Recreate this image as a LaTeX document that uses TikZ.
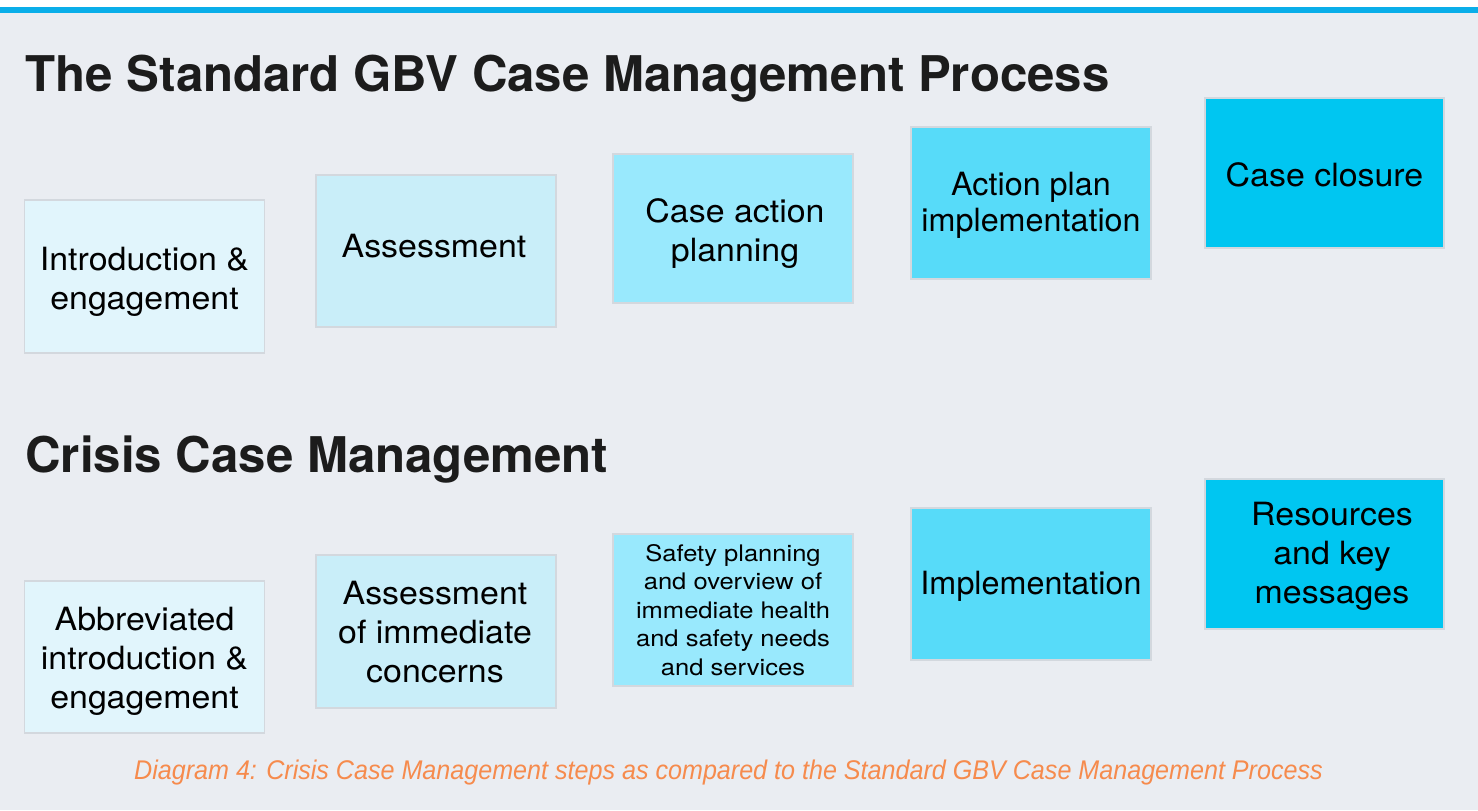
\documentclass[tikz,border=0pt]{standalone}
\usepackage{fontspec}
\setmainfont{TeX Gyre Heros}
\newfontfamily\boxfont[FakeStretch=1.06]{TeX Gyre Heros}
\newfontfamily\boxfontn[FakeStretch=1.01]{TeX Gyre Heros}
\newfontfamily\smallfont[FakeStretch=1.12]{TeX Gyre Heros}
\newfontfamily\capfont{Liberation Sans}
\definecolor{bgc}{HTML}{EAEDF2}
\definecolor{linec}{HTML}{0AAEE9}
\definecolor{ca}{HTML}{E1F5FC}
\definecolor{cb}{HTML}{C9EEF9}
\definecolor{cc}{HTML}{99E9FD}
\definecolor{cd}{HTML}{57DBF9}
\definecolor{ce}{HTML}{00C6F1}
\definecolor{edgec}{HTML}{D3D8DE}
\definecolor{titlec}{HTML}{1C1C1C}
\definecolor{capc}{HTML}{F68B4D}
\tikzset{
  stepbox/.style={draw=edgec, line width=0.6pt, minimum width=120pt, minimum height=76pt, inner sep=0pt},
  steptext/.style={inner sep=0pt, align=center, text=black, font=\boxfont\fontsize{16}{19.5}\selectfont},
  smalltext/.style={steptext, font=\smallfont\fontsize{11.4}{14.3}\selectfont},
  titletext/.style={anchor=base west, inner sep=0pt, text=titlec, font=\fontsize{24.6}{28}\selectfont\bfseries},
}
\begin{document}
\begin{tikzpicture}[x=0.5pt,y=-0.5pt]
\useasboundingbox (0,0) rectangle (1478,810);
\fill[white] (0,0) rectangle (1478,810);
\fill[bgc] (0,12) rectangle (1478,810);
\fill[linec] (0,7) rectangle (1478,12.5);

\node[titletext] (t1) at (25,91) {The Standard GBV Case Management Process};
\node[titletext] (t2) at (25,472) {Crisis Case Management};

% standard process boxes
\node[stepbox, fill=ca, minimum height=76.5pt] (a1) at (144.5,276.5) {};
\node[stepbox, fill=cb] (a2) at (436,251) {};
\node[stepbox, fill=cc, minimum height=74.5pt] (a3) at (733,228.5) {};
\node[stepbox, fill=cd] (a4) at (1031,203) {};
\node[stepbox, fill=ce, minimum width=119.5pt, minimum height=75pt] (a5) at (1324.5,173) {};

\node[steptext] (a1t) at (144.5,281.5) {Introduction \&\\engagement};
\node[steptext] (a2t) at (434,246) {Assessment};
\node[steptext] (a3t) at (735,234) {Case action\\planning};
\node[steptext, font=\boxfontn\fontsize{16}{18}\selectfont] (a4t) at (1031,205) {Action plan\\implementation};
\node[steptext] (a5t) at (1324.5,175) {Case closure};

% crisis boxes
\node[stepbox, fill=ca] (b1) at (144.5,657) {};
\node[stepbox, fill=cb, minimum height=76.5pt] (b2) at (436,631.5) {};
\node[stepbox, fill=cc] (b3) at (733,610) {};
\node[stepbox, fill=cd] (b4) at (1031,584) {};
\node[stepbox, fill=ce, minimum width=119.5pt, minimum height=75pt] (b5) at (1324.5,554) {};

\node[steptext] (b1t) at (144.5,661) {Abbreviated\\introduction \&\\engagement};
\node[steptext] (b2t) at (435,632.5) {Assessment\\of immediate\\concerns};
\node[smalltext] (b3t) at (733,610) {Safety planning\\and overview of\\immediate health\\and safety needs\\and services};
\node[steptext, font=\boxfontn\fontsize{16}{19.5}\selectfont] (b4t) at (1031,586) {Implementation};
\node[steptext] (b5t) at (1332,556) {Resources\\and key\\messages};

\node[anchor=base, inner sep=0pt, text=capc, xscale=0.93, font=\capfont\itshape\fontsize{13.5}{15}\selectfont] (cap) at (728.5,779) {Diagram 4: Crisis Case Management steps as compared to the Standard GBV Case Management Process};
\end{tikzpicture}
\end{document}
